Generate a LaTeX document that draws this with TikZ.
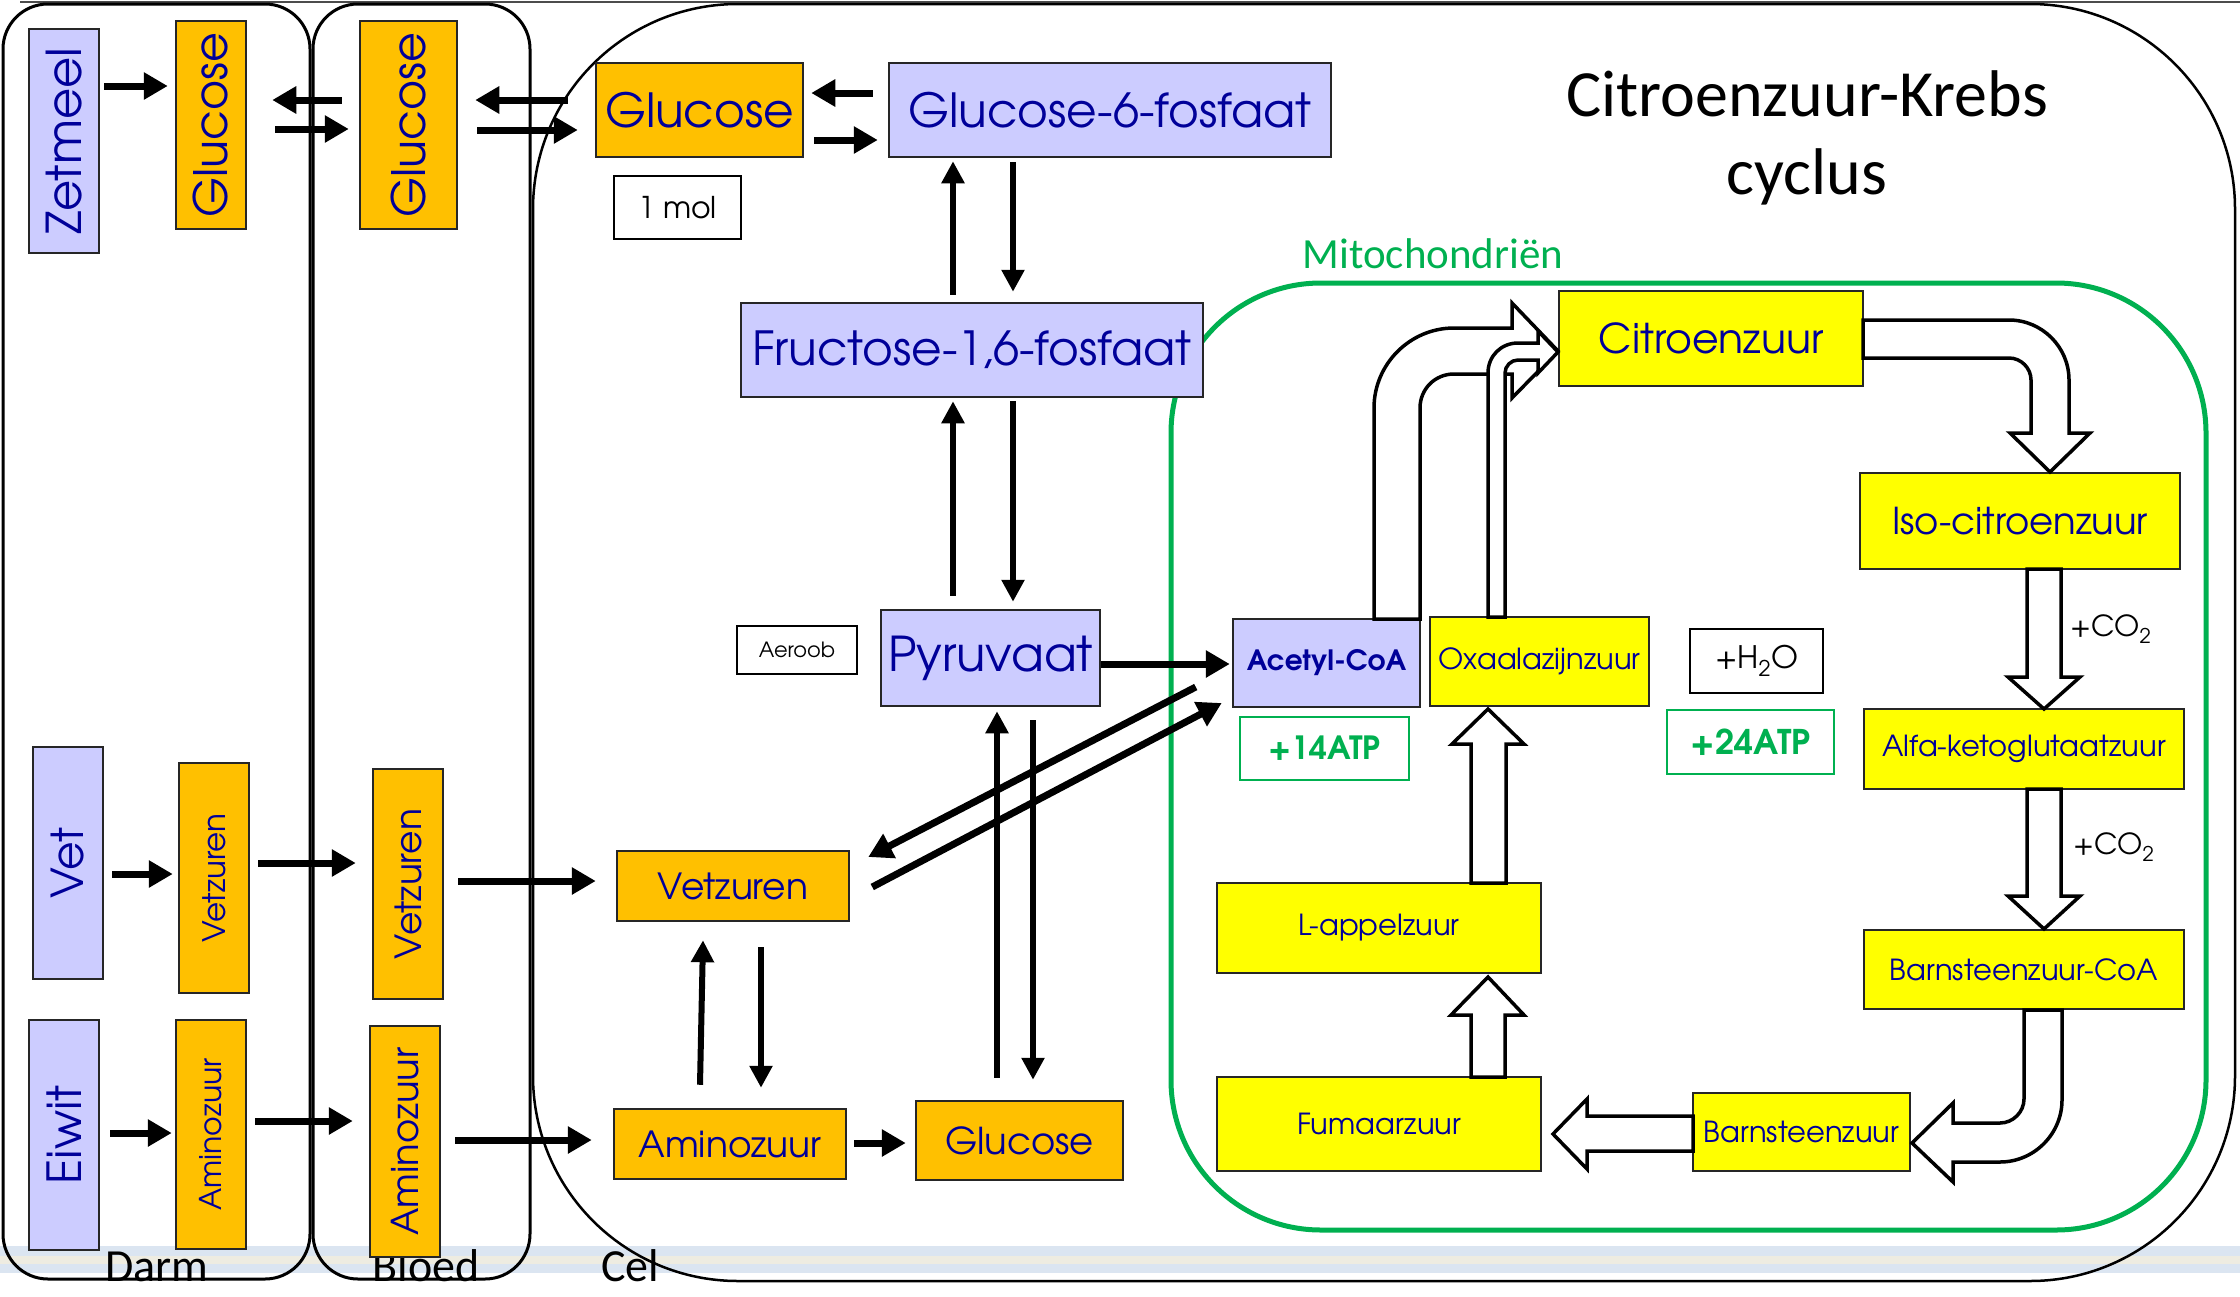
\documentclass[tikz,border=0pt]{standalone}
\usepackage{fontspec}
\usepackage{graphicx}
\setmainfont{TeX Gyre Adventor}
\newfontfamily\calfont{Carlito}
\usetikzlibrary{arrows.meta,calc}
\definecolor{lav}{RGB}{204,204,255}
\definecolor{org}{RGB}{255,192,0}
\definecolor{yel}{RGB}{255,255,0}
\definecolor{navy}{RGB}{0,0,153}
\definecolor{mgreen}{RGB}{0,176,80}
\definecolor{stripeblue}{RGB}{219,229,241}
\definecolor{stripebeige}{RGB}{238,236,225}
\newcommand\fs[1]{\fontsize{#1}{#1}\selectfont}
\begin{document}
\begin{tikzpicture}[x=1pt,y=-1pt,
  box/.style={draw=black!85, line width=2.5pt, inner sep=0pt, text=navy, align=center},
  lavbox/.style={box, fill=lav},
  orgbox/.style={box, fill=org},
  yelbox/.style={box, fill=yel},
  notebox/.style={draw=black, line width=2pt, fill=white, inner sep=0pt},
  atpbox/.style={draw=mgreen, line width=2pt, fill=white, inner sep=0pt, text=mgreen},
  arr/.style={line width=7pt, -{Triangle[length=24pt,width=26pt]}},
  arrthin/.style={line width=6pt, -{Triangle[length=22pt,width=22pt]}},
  blk/.style={draw=black, line width=3.5pt, fill=white, line join=miter},
  container/.style={draw=black, line width=3pt},
  zonelbl/.style={font=\calfont\fs{46}, anchor=base, inner sep=0pt},
]
\useasboundingbox (0,0) rectangle (2240,1296);
% slide decoration
\fill[stripeblue] (0,1246) rectangle (2240,1256);
\fill[stripebeige] (0,1256) rectangle (2240,1264);
\fill[stripeblue] (0,1264) rectangle (2240,1273);
\draw[black!70, line width=2pt] (20,1.5) -- (2240,1.5);

% containers
\draw[container, rounded corners=45pt] (3,4) rectangle (310,1279);
\draw[container, rounded corners=45pt] (313,4) rectangle (530,1279);
\draw[line width=2.5pt, rounded corners=205pt] (533,4) rectangle (2235,1281);
\draw[mgreen, line width=5pt, rounded corners=150pt] (1171,283) rectangle (2206,1230);

% labels
\node[zonelbl] (darmlbl) at (157,1281) {Darm};
\node[zonelbl] (bloedlbl) at (426,1281) {Bloed};
\node[zonelbl] (cellbl) at (630,1281) {Cel};
\node[font=\calfont\fontsize{66}{78}\selectfont, align=center] (title) at (1807,138) {Citroenzuur-Krebs\\cyclus};
\node[font=\calfont\fs{43}, text=mgreen] (mitolbl) at (1433,254) {Mitochondriën};

% Darm column
\node[lavbox, minimum width=70pt, minimum height=224pt] (zet) at (64,141) {\rotatebox{90}{\fs{48}Zetmeel}};
\node[orgbox, minimum width=70pt, minimum height=208pt] (glucD) at (211,125) {\rotatebox{90}{\fs{46}Glucose}};
\node[lavbox, minimum width=70pt, minimum height=232pt] (vet) at (68,863) {\rotatebox{90}{\fs{44}Vet}};
\node[orgbox, minimum width=70pt, minimum height=230pt] (vetD) at (214,878) {\rotatebox{90}{\fs{31}Vetzuren}};
\node[lavbox, minimum width=70pt, minimum height=230pt] (eiwit) at (64,1135) {\rotatebox{90}{\fs{47}Eiwit}};
\node[orgbox, minimum width=70pt, minimum height=229pt] (aminoD) at (211,1134.5) {\rotatebox{90}{\fs{30}Aminozuur}};
% Bloed column
\node[orgbox, minimum width=97pt, minimum height=208pt] (glucB) at (408.5,125) {\rotatebox{90}{\fs{46}Glucose}};
\node[orgbox, minimum width=70pt, minimum height=230pt] (vetB) at (408,884) {\rotatebox{90}{\fs{36}Vetzuren}};
\node[orgbox, minimum width=70pt, minimum height=231pt] (aminoB) at (405,1141.5) {\rotatebox{90}{\fs{37}Aminozuur}};
% Cel
\node[orgbox, minimum width=207pt, minimum height=94pt] (glucC) at (699.5,110) {\fs{47}Glucose};
\node[lavbox, minimum width=442pt, minimum height=94pt] (g6f) at (1110,110) {\fs{47}Glucose-6-fosfaat};
\node[notebox, minimum width=127pt, minimum height=63pt] (mol) at (677.5,207.5) {\fs{30}1 mol};
\node[lavbox, minimum width=462pt, minimum height=94pt] (f16) at (972,350) {\fs{47}Fructose-1,6-fosfaat};
\node[lavbox, minimum width=219pt, minimum height=96pt] (pyr) at (990.5,658) {\fs{48}Pyruvaat};
\node[notebox, minimum width=120pt, minimum height=48pt] (aer) at (797,650) {\fs{21}Aeroob};
\node[orgbox, minimum width=232pt, minimum height=70pt] (vetC) at (733,886) {\fs{36}Vetzuren};
\node[orgbox, minimum width=232pt, minimum height=70pt] (aminoC) at (730,1144) {\fs{36}Aminozuur};
\node[orgbox, minimum width=207pt, minimum height=79pt] (glucBot) at (1019.5,1140.5) {\fs{37}Glucose};
% Mitochondrien
\node[lavbox, minimum width=187pt, minimum height=88pt] (acetyl) at (1326.5,663) {\fs{28}\bfseries Acetyl-CoA};
\node[yelbox, minimum width=219pt, minimum height=89pt] (oxaal) at (1539.5,661.5) {\fs{29}Oxaalazijnzuur};
\node[notebox, minimum width=133pt, minimum height=64pt] (h2o) at (1756.5,661) {\fs{31}+H\textsubscript{2}O};
\node[atpbox, minimum width=169pt, minimum height=63pt] (atp14) at (1324.5,748.5) {\fs{32}\bfseries +14ATP};
\node[atpbox, minimum width=167pt, minimum height=64pt] (atp24) at (1750.5,742) {\fs{34}\bfseries +24ATP};
\node[yelbox, minimum width=304pt, minimum height=95pt] (citro) at (1711,338.5) {\fs{41}Citroenzuur};
\node[yelbox, minimum width=320pt, minimum height=96pt] (iso) at (2020,521) {\fs{37}Iso-citroenzuur};
\node[yelbox, minimum width=320pt, minimum height=80pt] (alfa) at (2024,749) {\fs{29}Alfa-ketoglutaatzuur};
\node[yelbox, minimum width=320pt, minimum height=79pt] (bcoa) at (2024,969.5) {\fs{29}Barnsteenzuur-CoA};
\node[yelbox, minimum width=217pt, minimum height=78pt] (barn) at (1801.5,1132) {\fs{29}Barnsteenzuur};
\node[yelbox, minimum width=324pt, minimum height=94pt] (fum) at (1379,1124) {\fs{29}Fumaarzuur};
\node[yelbox, minimum width=324pt, minimum height=90pt] (lapp) at (1379,928) {\fs{29}L-appelzuur};
\node[font=\fs{29}] (co2a) at (2111,629) {+CO\textsubscript{2}};
\node[font=\fs{29}] (co2b) at (2114,847) {+CO\textsubscript{2}};

% thin arrows
\draw[arr] ($(zet.east)+(4,-55)$) -- ($(glucD.west)+(-7,-39)$);
\draw[arr] ($(glucB.west)+(-17,-25)$) -- ($(glucD.east)+(25,-25)$);
\draw[arr] ($(glucD.east)+(28,4)$) -- ($(glucB.west)+(-10,4)$);
\draw[arr] ($(glucC.west)+(-27,-10)$) -- ($(glucB.east)+(17,-25)$);
\draw[arr] ($(glucB.east)+(19,5)$) -- ($(glucC.west)+(-17,20)$);
\draw[arr] ($(g6f.west)+(-15,-17)$) -- ($(glucC.east)+(7,-17)$);
\draw[arr] ($(glucC.east)+(10,30)$) -- ($(g6f.west)+(-10,30)$);
\draw[arrthin] ($(f16.north)+(-19,-7)$) -- ($(g6f.south)+(-157,3)$);
\draw[arrthin] ($(g6f.south)+(-97,4)$) -- ($(f16.north)+(41,-10)$);
\draw[arrthin] ($(pyr.north)+(-37.5,-13)$) -- ($(f16.south)+(-19,3)$);
\draw[arrthin] ($(f16.south)+(41,3)$) -- ($(pyr.north)+(22.5,-7)$);
\draw[arr] ($(pyr.east)+(0,6)$) -- ($(acetyl.west)+(-2,1)$);
\draw[arr] ($(acetyl.west)+(-36,24)$) -- ($(vetC.east)+(18,-29)$);
\draw[arr] ($(vetC.east)+(22,1)$) -- ($(acetyl.west)+(-10,40)$);
\draw[arr] ($(vet.east)+(8,11)$) -- ($(vetD.west)+(-5,-4)$);
\draw[arr] ($(vetD.east)+(8,-15)$) -- ($(vetB.west)+(-16,-21)$);
\draw[arr] ($(vetB.east)+(14,-3)$) -- ($(vetC.west)+(-20,-5)$);
\draw[arr] ($(eiwit.east)+(10,-2)$) -- ($(aminoD.west)+(-3,-1.5)$);
\draw[arr] ($(aminoD.east)+(8,-13.5)$) -- ($(aminoB.west)+(-16,-20.5)$);
\draw[arr] ($(aminoB.east)+(14,-1.5)$) -- ($(aminoC.west)+(-21,-4)$);
\draw[arr] ($(aminoC.east)+(7,-1)$) -- ($(glucBot.west)+(-9,2.5)$);
\draw[arrthin] ($(aminoC.north)+(-30,-23)$) -- ($(vetC.south)+(-30,18)$);
\draw[arrthin] ($(vetC.south)+(28,25)$) -- ($(aminoC.north)+(31,-20)$);
\draw[arrthin] ($(glucBot.north)+(-22.5,-22)$) -- ($(pyr.south)+(6.5,4)$);
\draw[arrthin] ($(pyr.south)+(42.5,13)$) -- ($(glucBot.north)+(13.5,-20)$);

% block arrows of the cycle
\draw[blk] (1374,619) -- (1374,408) .. controls (1374,364) and (1410,328) .. (1454,328) -- (1512,328) -- (1512,303) -- (1558,351) -- (1512,398) -- (1512,374) -- (1454,374) .. controls (1435,374) and (1420,389) .. (1420,408) -- (1420,619) -- cycle;
\draw[blk] (1488,617) -- (1488,373) .. controls (1488,356) and (1501,343) .. (1518,343) -- (1538,343) -- (1538,331) -- (1558,352) -- (1538,373) -- (1538,360) -- (1518,360) .. controls (1511,360) and (1505,366) .. (1505,373) -- (1505,617) -- cycle;
\draw[blk] (1863,320) -- (2009,320) .. controls (2042,320) and (2069,347) .. (2069,380) -- (2069,433) -- (2090,433) -- (2050,472) -- (2010,433) -- (2031,433) -- (2031,380) .. controls (2031,368) and (2021,358) .. (2009,358) -- (1863,358) -- cycle;
\draw[blk] (2027,569) -- (2027,677) -- (2008,677) -- (2044,709) -- (2080,677) -- (2061,677) -- (2061,569) -- cycle;
\draw[blk] (2027,789) -- (2027,896) -- (2008,896) -- (2044,929) -- (2080,896) -- (2061,896) -- (2061,789) -- cycle;
\draw[blk] (2024,1010) -- (2062,1010) -- (2062,1100) .. controls (2062,1134) and (2034,1162) .. (2000,1162) -- (1953,1162) -- (1953,1182) -- (1912,1143) -- (1953,1103) -- (1953,1123) -- (2000,1123) .. controls (2013,1123) and (2024,1112) .. (2024,1099) -- cycle;
\draw[blk] (1693,1116) -- (1587,1116) -- (1587,1099) -- (1553,1134) -- (1587,1169) -- (1587,1151) -- (1693,1151) -- cycle;
\draw[blk] (1471,1077) -- (1471,1015) -- (1451,1015) -- (1488,977) -- (1524,1015) -- (1505,1015) -- (1505,1077) -- cycle;
\draw[blk] (1471,883) -- (1471,744) -- (1452,744) -- (1488,709) -- (1524,744) -- (1506,744) -- (1506,883) -- cycle;
\end{tikzpicture}
\end{document}
